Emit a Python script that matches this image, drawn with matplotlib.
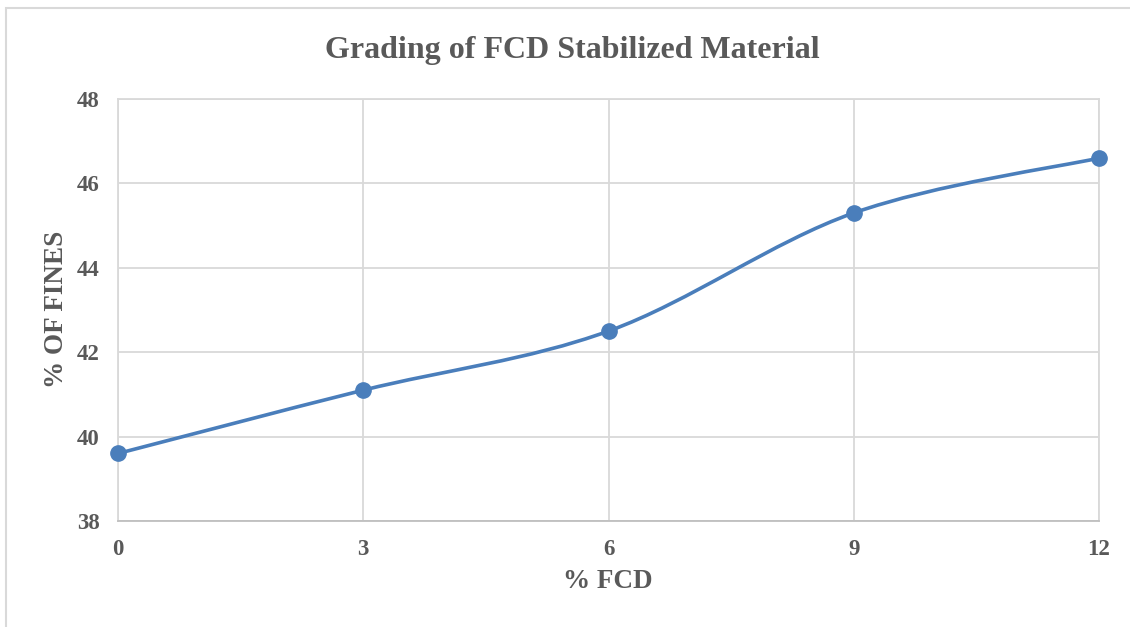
import matplotlib
matplotlib.use("Agg")
import matplotlib.pyplot as plt
from matplotlib.path import Path
from matplotlib.patches import PathPatch, Rectangle
import numpy as np

fcd = [0, 3, 6, 9, 12]
fines = [39.6, 41.1, 42.5, 45.3, 46.6]
x_ticks = [0, 3, 6, 9, 12]
y_ticks = [38, 40, 42, 44, 46, 48]
title = "Grading of FCD Stabilized Material"
xlabel = "% FCD"
ylabel = "% OF FINES"

TXT = "#595959"
GRID = "#d9d9d9"
BLUE = "#4a7ebb"

plt.rcParams['font.family'] = ['Liberation Serif', 'DejaVu Serif']
plt.rcParams['font.weight'] = 'bold'

W, H = 1130, 627
fig = plt.figure(figsize=(W / 100, H / 100), dpi=100)
ax = fig.add_axes([118/W, 1-521/H, (1099-118)/W, (521-99)/H])

# figure border
fig.patches.append(Rectangle((6/W, -0.1), 1.2, (H-8)/H + 0.1, transform=fig.transFigure,
                             fill=False, edgecolor=GRID, lw=1.5, zorder=0))

ax.set_xlim(0, 12)
ax.set_ylim(38, 48)
ax.set_xticks(x_ticks)
ax.set_yticks(y_ticks)
ax.grid(True, color=GRID, lw=1.3)
ax.set_axisbelow(True)
for s in ax.spines.values():
    s.set_color(GRID)
    s.set_linewidth(1.3)
ax.spines['bottom'].set_color("#bfbfbf")
ax.tick_params(length=0, labelsize=16.5, labelcolor=TXT)
ax.tick_params(axis='x', pad=13)
ax.tick_params(axis='y', pad=13)
for lab in ax.get_xticklabels() + ax.get_yticklabels():
    lab.set_fontweight('bold')

# Excel-style smoothed line (cubic Bezier, Catmull-Rom with 1/6 factor)
P = np.column_stack([fcd, fines]).astype(float)
n = len(P)
verts = [P[0]]
codes = [Path.MOVETO]
for i in range(n - 1):
    p0 = P[i - 1] if i > 0 else P[i]
    p1 = P[i]
    p2 = P[i + 1]
    p3 = P[i + 2] if i + 2 < n else P[i + 1]
    c1 = p1 + (p2 - p0) / 6.0
    c2 = p2 - (p3 - p1) / 6.0
    verts += [c1, c2, p2]
    codes += [Path.CURVE4] * 3
ax.add_patch(PathPatch(Path(verts, codes), fill=False, edgecolor=BLUE, lw=2.6, zorder=3,
                       clip_on=False))
ax.plot(fcd, fines, 'o', color=BLUE, ms=11, zorder=4, clip_on=False)

fig.text(572/W, 1-58/H, title, fontsize=23, color=TXT, fontweight='bold',
         ha='center', va='baseline')
fig.text(608/W, 1-581/H, xlabel, fontsize=19.5, color=TXT, fontweight='bold',
         ha='center', va='center')
fig.text(57/W, 1-309/H, ylabel, fontsize=19.5, color=TXT, fontweight='bold',
         ha='center', va='center', rotation=90)

fig.savefig("out.png", dpi=100)
